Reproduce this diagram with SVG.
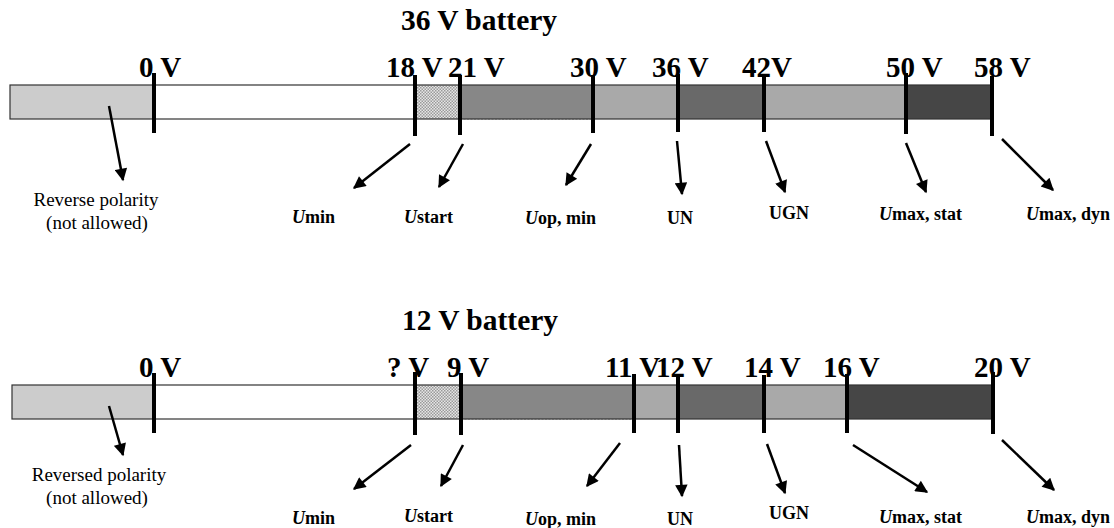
<svg xmlns="http://www.w3.org/2000/svg" width="1114" height="528" viewBox="0 0 1114 528">
<defs>
<pattern id="hatch" width="3" height="3" patternUnits="userSpaceOnUse">
<rect width="3" height="3" fill="#e6e6e6"/>
<rect width="1.5" height="1.5" fill="#9a9a9a"/>
<rect x="1.5" y="1.5" width="1.5" height="1.5" fill="#9a9a9a"/>
</pattern>
<marker id="ah" viewBox="0 0 10 10" refX="9" refY="5" markerWidth="6" markerHeight="5" markerUnits="strokeWidth" orient="auto">
<path d="M0,0 L10,5 L0,10 z" fill="#000"/>
</marker>
<style>
.title{font-family:"Liberation Serif",serif;font-weight:bold;font-size:29.5px;fill:#000}
.tl{font-family:"Liberation Serif",serif;font-weight:bold;font-size:29px;fill:#000}
.lb{font-family:"Liberation Serif",serif;font-weight:bold;font-size:18px;fill:#000}
.rp{font-family:"Liberation Serif",serif;font-size:19px;fill:#000;text-anchor:middle}
.it{font-style:italic}
.seg{stroke:none}
.outline{fill:none;stroke:#333;stroke-width:1.2}
.tick{stroke:#000;stroke-width:4}
.arr{stroke:#000;stroke-width:2.5;fill:none;marker-end:url(#ah)}
</style>
</defs>

<g id="battery36">
<text class="title" x="479" y="30" text-anchor="middle">36 V battery</text>
<g id="bar36">
<rect class="seg" x="10" y="85" width="144" height="34" fill="#cccccc"/>
<rect class="seg" x="154" y="85" width="261" height="34" fill="#ffffff"/>
<rect class="seg" x="415" y="85" width="45" height="34" fill="url(#hatch)"/>
<rect class="seg" x="460" y="85" width="133" height="34" fill="#878787"/>
<rect class="seg" x="593" y="85" width="85" height="34" fill="#a9a9a9"/>
<rect class="seg" x="678" y="85" width="86" height="34" fill="#696969"/>
<rect class="seg" x="764" y="85" width="142" height="34" fill="#a9a9a9"/>
<rect class="seg" x="906" y="85" width="86" height="34" fill="#464646"/>
<rect class="outline" x="10" y="85" width="982" height="34"/>
<line x1="460" y1="119" x2="593" y2="119" stroke="#555" stroke-width="1.2" stroke-dasharray="2 1.5"/>
</g>
<g id="ticks36">
<line class="tick" x1="154" y1="73" x2="154" y2="133"/>
<line class="tick" x1="415" y1="75" x2="415" y2="136"/>
<line class="tick" x1="460" y1="75" x2="460" y2="135"/>
<line class="tick" x1="593" y1="75" x2="593" y2="133"/>
<line class="tick" x1="678" y1="74" x2="678" y2="132"/>
<line class="tick" x1="764" y1="75" x2="764" y2="132"/>
<line class="tick" x1="906" y1="73" x2="906" y2="134"/>
<line class="tick" x1="992" y1="76" x2="992" y2="136"/>
</g>
<g id="volts36">
<text class="tl" x="139" y="77">0 V</text>
<text class="tl" x="386" y="77">18 V</text>
<text class="tl" x="448" y="77">21 V</text>
<text class="tl" x="570" y="77">30 V</text>
<text class="tl" x="652" y="77">36 V</text>
<text class="tl" x="742" y="77">42V</text>
<text class="tl" x="886" y="77">50 V</text>
<text class="tl" x="974" y="77">58 V</text>
</g>
<g id="labels36">
<text class="rp" x="96" y="206">Reverse polarity</text>
<text class="rp" x="97" y="229">(not allowed)</text>
<text class="lb" x="292" y="223"><tspan class="it">U</tspan>min</text>
<text class="lb" x="404" y="223"><tspan class="it">U</tspan>start</text>
<text class="lb" x="525" y="224"><tspan class="it">U</tspan>op, min</text>
<text class="lb" x="667" y="224">UN</text>
<text class="lb" x="769" y="219">UGN</text>
<text class="lb" x="879" y="220"><tspan class="it">U</tspan>max, stat</text>
<text class="lb" x="1026" y="220"><tspan class="it">U</tspan>max, dyn</text>
</g>
</g>

<g id="battery12">
<text class="title" x="480" y="330" text-anchor="middle">12 V  battery</text>
<g id="bar12">
<rect class="seg" x="12" y="385" width="142" height="34" fill="#cccccc"/>
<rect class="seg" x="154" y="385" width="261" height="34" fill="#ffffff"/>
<rect class="seg" x="415" y="385" width="46" height="34" fill="url(#hatch)"/>
<rect class="seg" x="461" y="385" width="173" height="34" fill="#878787"/>
<rect class="seg" x="634" y="385" width="44" height="34" fill="#a9a9a9"/>
<rect class="seg" x="678" y="385" width="86" height="34" fill="#696969"/>
<rect class="seg" x="764" y="385" width="83" height="34" fill="#a9a9a9"/>
<rect class="seg" x="847" y="385" width="146" height="34" fill="#464646"/>
<rect class="outline" x="12" y="385" width="981" height="34"/>
<line x1="461" y1="419" x2="634" y2="419" stroke="#555" stroke-width="1.2" stroke-dasharray="2 1.5"/>
</g>
<g id="ticks12">
<line class="tick" x1="154" y1="373" x2="154" y2="433"/>
<line class="tick" x1="415" y1="372" x2="415" y2="435"/>
<line class="tick" x1="461" y1="373" x2="461" y2="435"/>
<line class="tick" x1="634" y1="374" x2="634" y2="433"/>
<line class="tick" x1="678" y1="375" x2="678" y2="433"/>
<line class="tick" x1="764" y1="375" x2="764" y2="433"/>
<line class="tick" x1="847" y1="374" x2="847" y2="433"/>
<line class="tick" x1="993" y1="372" x2="993" y2="434"/>
</g>
<g id="volts12">
<text class="tl" x="139" y="377">0 V</text>
<text class="tl" x="387" y="377">? V</text>
<text class="tl" x="447" y="377">9 V</text>
<text class="tl" x="605" y="377">11 V</text>
<text class="tl" x="656" y="377">12 V</text>
<text class="tl" x="744" y="377">14 V</text>
<text class="tl" x="823" y="377">16 V</text>
<text class="tl" x="974" y="377">20 V</text>
</g>
<g id="labels12">
<text class="rp" x="99" y="481">Reversed polarity</text>
<text class="rp" x="97" y="504">(not allowed)</text>
<text class="lb" x="292" y="524"><tspan class="it">U</tspan>min</text>
<text class="lb" x="404" y="522"><tspan class="it">U</tspan>start</text>
<text class="lb" x="525" y="525"><tspan class="it">U</tspan>op, min</text>
<text class="lb" x="667" y="525">UN</text>
<text class="lb" x="769" y="519">UGN</text>
<text class="lb" x="879" y="523"><tspan class="it">U</tspan>max, stat</text>
<text class="lb" x="1026" y="523"><tspan class="it">U</tspan>max, dyn</text>
</g>
</g>

<g id="connectors">
<line class="arr" x1="109" y1="106" x2="123" y2="180"/>
<line class="arr" x1="410" y1="144" x2="354" y2="188"/>
<line class="arr" x1="463" y1="144" x2="439" y2="187"/>
<line class="arr" x1="591" y1="144" x2="566" y2="185"/>
<line class="arr" x1="677" y1="141" x2="682" y2="194"/>
<line class="arr" x1="766" y1="141" x2="785" y2="192"/>
<line class="arr" x1="906" y1="143" x2="926" y2="192"/>
<line class="arr" x1="1002" y1="139" x2="1053" y2="190"/>

<line class="arr" x1="109" y1="406" x2="123" y2="455"/>
<line class="arr" x1="411" y1="445" x2="354" y2="489"/>
<line class="arr" x1="463" y1="445" x2="441" y2="486"/>
<line class="arr" x1="620" y1="443" x2="587" y2="486"/>
<line class="arr" x1="679" y1="445" x2="682" y2="496"/>
<line class="arr" x1="767" y1="444" x2="785" y2="493"/>
<line class="arr" x1="853" y1="445" x2="927" y2="492"/>
<line class="arr" x1="1002" y1="440" x2="1054" y2="490"/>
</g>
</svg>
